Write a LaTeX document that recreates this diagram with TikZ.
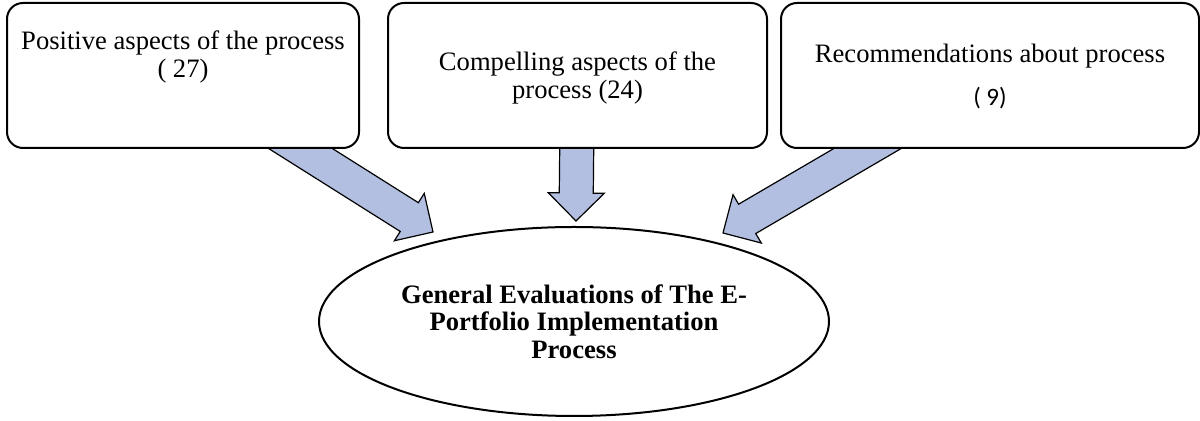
\documentclass[tikz,border=0pt]{standalone}
\usepackage{fontspec}
\setmainfont{Liberation Serif}
\newfontfamily\carlito{Carlito}
\usetikzlibrary{calc,positioning,shapes.geometric}
\definecolor{arrowblue}{RGB}{179,191,224}
\newcommand{\fatarrow}[2]{\coordinate (ahead) at ($(#2)!14pt!(#1)$);
\filldraw[fat] ($(#1)!8.5pt!90:(#2)$)--($(ahead)!8.5pt!90:(#2)$)--($(ahead)!14pt!90:(#2)$)--(#2)--($(ahead)!14pt!-90:(#2)$)--($(ahead)!8.5pt!-90:(#2)$)--($(#1)!8.5pt!-90:(#2)$)--cycle;}
\begin{document}
\begin{tikzpicture}[x=0.5pt,y=-0.5pt,font=\fontsize{13.3pt}{14pt}\selectfont,
card/.style={draw,line width=1pt,rounded corners=8pt,fill=white,inner sep=0pt},
lbl/.style={align=center,inner sep=0pt},
fat/.style={fill=arrowblue,draw=black,line width=0.6pt,line join=miter}]
\useasboundingbox (0,0) rectangle (1200,421);
\coordinate (posS) at (260,123);\coordinate (posT) at (433,232);
\coordinate (comS) at (577,120);\coordinate (comT) at (576,221);
\coordinate (recS) at (906,126);\coordinate (recT) at (723,233);
\fatarrow{posS}{posT}\fatarrow{comS}{comT}\fatarrow{recS}{recT}
\node[card,minimum width=176pt,minimum height=72.5pt] (pos) at (183,75.5){};
\node[lbl,below=14pt of pos.north] (posTxt){Positive aspects of the process\\( 27)};
\node[card,minimum width=189.5pt,minimum height=72.5pt] (com) at (577.5,75.5){};
\node[lbl,below=24.5pt of com.north] (comTxt){Compelling aspects of the\\process (24)};
\node[card,minimum width=209pt,minimum height=72.5pt] (rec) at (990,75.5){};
\node[lbl,below=21pt of rec.north] (recTxt){Recommendations about process\\[7.5pt]{\carlito\fontsize{12.5pt}{14pt}\selectfont ( 9)}};
\node[draw,ellipse,line width=1pt,inner sep=0pt,minimum width=255pt,minimum height=94.5pt,align=center,font=\fontsize{13.3pt}{13.75pt}\selectfont\bfseries] (gen) at (574,321.5){General Evaluations of The E-\\Portfolio Implementation\\Process};
\end{tikzpicture}
\end{document}
